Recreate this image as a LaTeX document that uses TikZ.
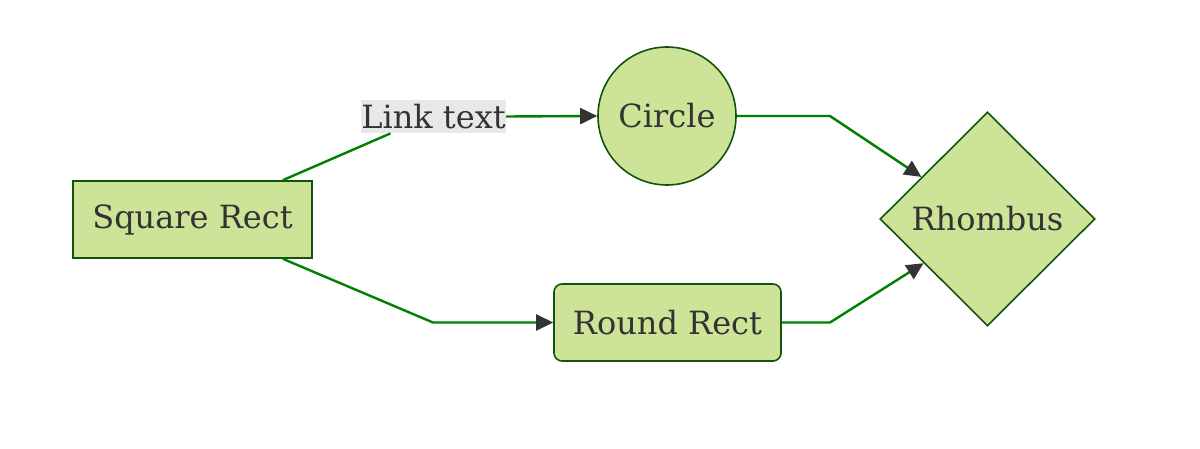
\documentclass[tikz,border=0pt]{standalone}
\usepackage{fontspec}
\setmainfont{DejaVu Serif}
\usetikzlibrary{shapes.geometric,arrows.meta,calc}
\definecolor{nodefill}{HTML}{CDE498}
\definecolor{nodeline}{HTML}{13540C}
\definecolor{edgeline}{HTML}{008000}
\definecolor{tipcol}{HTML}{333333}
\definecolor{txtcol}{HTML}{333333}
\definecolor{lblbg}{HTML}{E8E8E8}
\begin{document}
\begin{tikzpicture}[x=0.5pt,y=-0.5pt,
  base/.style={draw=nodeline,fill=nodefill,line width=0.8pt,text=txtcol,font=\fontsize{16}{19}\selectfont,inner sep=0pt},
  sqbox/.style={base,rectangle,minimum width=119.5pt,minimum height=38.5pt},
  rrbox/.style={base,rectangle,rounded corners=4pt,minimum width=113.5pt,minimum height=38.5pt},
  circbox/.style={base,circle,minimum size=69pt},
  diabox/.style={base,diamond,minimum width=107.5pt,minimum height=107pt},
  lbl/.style={fill=lblbg,text=txtcol,font=\fontsize{16}{19}\selectfont,inner sep=0pt,minimum width=71.5pt,minimum height=16.5pt},
  edge/.style={draw=edgeline,line width=1.2pt},
  arr/.style={edge,-{Triangle[length=8.5pt,width=8pt,color=tipcol]}}
]
\useasboundingbox (0,0) rectangle (1200,449);
\node[sqbox] (sq) at (192.5,219.5) {Square Rect};
\node[circbox] (ci) at (667,116) {Circle};
\node[rrbox] (rr) at (667.5,322.5) {Round Rect};
\node[diabox] (rh) at (987.5,219) {Rhombus};
\node[lbl] (lt) at (433.5,116.5) {Link text};
\coordinate (s1) at ($(sq.north east)+(-30,0)$);
\coordinate (l1) at ($(lt.south)+(-43,0)$);
\coordinate (s2) at ($(sq.south east)+(-30,0)$);
\coordinate (b2) at (433,322.5);
\coordinate (b3) at (830,116);
\coordinate (b4) at (830,322.5);
\coordinate (r1) at ($(rh.west)!0.39!(rh.north)$);
\coordinate (r2) at ($(rh.west)!0.41!(rh.south)$);
\draw[edge] (s1) -- (l1);
\draw[arr] (lt.east) -- (ci.west);
\draw[arr] (s2) -- (b2) -- (rr.west);
\draw[arr] (ci.east) -- (b3) -- (r1);
\draw[arr] (rr.east) -- (b4) -- (r2);
\end{tikzpicture}
\end{document}
